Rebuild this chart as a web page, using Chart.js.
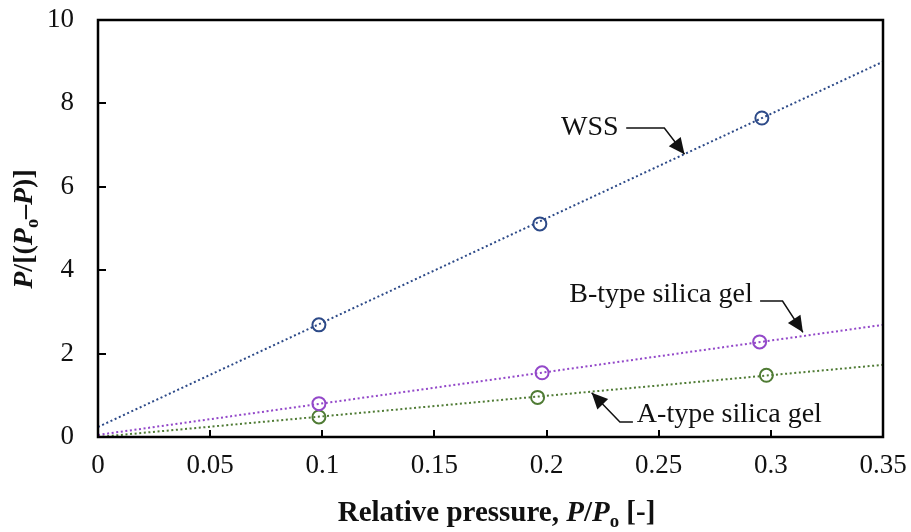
<!DOCTYPE html>
<html>
<head>
<meta charset="utf-8">
<script src="https://cdn.jsdelivr.net/npm/chart.js@4"></script>
<style>
  html, body { margin: 0; padding: 0; background: #fff; }
  #wrap { width: 911px; height: 532px; }
</style>
</head>
<body>
<div id="wrap"><canvas id="bet_chart"></canvas></div>
<script>
// measured points (relative pressure vs P/[(Po-P)])
const relPressure = [0.0985, 0.197, 0.296];
const wssValues = [2.69, 5.11, 7.65];
const relPressureB = [0.0985, 0.198, 0.295];
const bTypeValues = [0.80, 1.54, 2.28];
const relPressureA = [0.0985, 0.196, 0.298];
const aTypeValues = [0.48, 0.95, 1.48];

// linear trendlines, ends at x = 0 and x = 0.35
const fitX = [0, 0.35];
const wssFit = [0.24, 9.0];
const bTypeFit = [0.05, 2.69];
const aTypeFit = [0.0, 1.73];

const xTicks = [0, 0.05, 0.1, 0.15, 0.2, 0.25, 0.3, 0.35];
const yTicks = [0, 2, 4, 6, 8, 10];

// annotation text + arrow, in data units
const notes = [
  { text: "WSS", tx: 0.2193, ty: 7.41, line: [[0.2355, 7.41], [0.2525, 7.41], [0.2615, 6.78]] },
  { text: "B-type silica gel", tx: 0.251, ty: 3.41, line: [[0.2952, 3.26], [0.3052, 3.26], [0.3143, 2.51]] },
  { text: "A-type silica gel", tx: 0.2815, ty: 0.53, line: [[0.2385, 0.36], [0.2327, 0.36], [0.2201, 1.06]] },
];

const COL_WSS = "#2D4A88";
const COL_B = "#9348C9";
const COL_A = "#4F7B34";
const FONT = "'Liberation Serif', 'Times New Roman', serif";

function pts(xs, ys) {
  return xs.map((x, i) => ({ x: x, y: ys[i] }));
}

function fitSet(ys, color) {
  return {
    data: pts(fitX, ys),
    showLine: true,
    borderColor: color,
    borderWidth: 2,
    borderDash: [2, 2.6],
    pointRadius: 0,
    pointHoverRadius: 0,
  };
}

function markSet(xs, ys, color) {
  return {
    data: pts(xs, ys),
    showLine: false,
    borderColor: color,
    backgroundColor: "rgba(255,255,255,0)",
    pointStyle: "circle",
    pointRadius: 6.5,
    pointBorderWidth: 2,
  };
}

// draw text pieces with mixed bold/italic/subscript
function richWidth(ctx, parts, size) {
  let w = 0;
  parts.forEach((p) => {
    const s = p.sub ? size * 0.65 : size;
    ctx.font = (p.i ? "italic " : "") + "bold " + s + "px " + FONT;
    w += ctx.measureText(p.t).width;
  });
  return w;
}
function richDraw(ctx, parts, size, x, y) {
  parts.forEach((p) => {
    const s = p.sub ? size * 0.65 : size;
    ctx.font = (p.i ? "italic " : "") + "bold " + s + "px " + FONT;
    ctx.fillText(p.t, x, p.sub ? y + size * 0.22 : y);
    x += ctx.measureText(p.t).width;
  });
}

const framePlugin = {
  id: "framePlugin",
  afterDraw(chart) {
    const { ctx, chartArea, scales } = chart;
    const xs = scales.x, ys = scales.y;
    ctx.save();
    ctx.strokeStyle = "#000";
    ctx.lineWidth = 2.5;
    ctx.strokeRect(chartArea.left, chartArea.top, chartArea.right - chartArea.left, chartArea.bottom - chartArea.top);

    // inward tick marks
    ctx.lineWidth = 2;
    ctx.beginPath();
    xTicks.slice(1, -1).forEach((v) => {
      const px = Math.round(xs.getPixelForValue(v));
      ctx.moveTo(px, chartArea.bottom);
      ctx.lineTo(px, chartArea.bottom - 7);
    });
    yTicks.slice(1, -1).forEach((v) => {
      const py = Math.round(ys.getPixelForValue(v));
      ctx.moveTo(chartArea.left, py);
      ctx.lineTo(chartArea.left + 8, py);
    });
    ctx.stroke();

    // annotations
    ctx.fillStyle = "#111";
    ctx.strokeStyle = "#111";
    ctx.textBaseline = "middle";
    ctx.textAlign = "center";
    ctx.font = "28px " + FONT;
    notes.forEach((n) => {
      ctx.fillText(n.text, xs.getPixelForValue(n.tx), ys.getPixelForValue(n.ty));
      const p = n.line.map((q) => [xs.getPixelForValue(q[0]), ys.getPixelForValue(q[1])]);
      ctx.lineWidth = 1.5;
      ctx.beginPath();
      ctx.moveTo(p[0][0], p[0][1]);
      ctx.lineTo(p[1][0], p[1][1]);
      ctx.lineTo(p[2][0], p[2][1]);
      ctx.stroke();
      // arrow head
      const ang = Math.atan2(p[2][1] - p[1][1], p[2][0] - p[1][0]);
      const L = 16, W = 7.5;
      ctx.beginPath();
      ctx.moveTo(p[2][0], p[2][1]);
      ctx.lineTo(p[2][0] - L * Math.cos(ang) + W * Math.sin(ang), p[2][1] - L * Math.sin(ang) - W * Math.cos(ang));
      ctx.lineTo(p[2][0] - L * Math.cos(ang) - W * Math.sin(ang), p[2][1] - L * Math.sin(ang) + W * Math.cos(ang));
      ctx.closePath();
      ctx.fill();
    });

    // axis titles
    ctx.textAlign = "left";
    ctx.textBaseline = "alphabetic";
    const xTitle = [
      { t: "Relative pressure, " },
      { t: "P", i: true },
      { t: "/" },
      { t: "P", i: true },
      { t: "o", sub: true },
      { t: " [-]" },
    ];
    const size = 29;
    const wx = richWidth(ctx, xTitle, size);
    richDraw(ctx, xTitle, size, (chartArea.left + chartArea.right) / 2 - wx / 2 + 6, 521);

    const yTitle = [
      { t: "P", i: true },
      { t: "/[(" },
      { t: "P", i: true },
      { t: "o", sub: true },
      { t: "\u2013" },
      { t: "P", i: true },
      { t: ")]" },
    ];
    const wy = richWidth(ctx, yTitle, 28);
    ctx.translate(32, 229);
    ctx.rotate(-Math.PI / 2);
    richDraw(ctx, yTitle, 28, -wy / 2, 0);
    ctx.restore();
  },
};

var ctx = document.getElementById("bet_chart").getContext("2d");
var myChart = new Chart(ctx, {
  type: "scatter",
  plugins: [framePlugin],
  data: {
    datasets: [
      fitSet(wssFit, COL_WSS),
      fitSet(bTypeFit, COL_B),
      fitSet(aTypeFit, COL_A),
      markSet(relPressure, wssValues, COL_WSS),
      markSet(relPressureB, bTypeValues, COL_B),
      markSet(relPressureA, aTypeValues, COL_A),
    ],
  },
  options: {
    responsive: true,
    maintainAspectRatio: false,
    animation: false,
    layout: {
      padding: { left: 0, top: 20, right: 28, bottom: 0 },
    },
    plugins: {
      legend: { display: false },
      tooltip: { enabled: false },
    },
    scales: {
      x: {
        type: "linear",
        min: 0,
        max: 0.35,
        afterFit: function (scale) {
          scale.height = 95;
          scale.paddingLeft = 0;
          scale.paddingRight = 0;
        },
        afterBuildTicks: function (scale) {
          scale.ticks = xTicks.map((v) => ({ value: v }));
        },
        grid: { display: false },
        border: { display: false },
        ticks: {
          color: "#111",
          padding: 5,
          maxRotation: 0,
          font: { family: FONT, size: 27 },
          callback: (v) => String(v),
        },
      },
      y: {
        type: "linear",
        min: 0,
        max: 10,
        afterFit: function (scale) {
          scale.width = 98;
          scale.paddingTop = 0;
          scale.paddingBottom = 0;
        },
        afterBuildTicks: function (scale) {
          scale.ticks = yTicks.map((v) => ({ value: v }));
        },
        grid: { display: false },
        border: { display: false },
        ticks: {
          color: "#111",
          padding: 16,
          font: { family: FONT, size: 27 },
        },
      },
    },
  },
});
</script>
</body>
</html>
